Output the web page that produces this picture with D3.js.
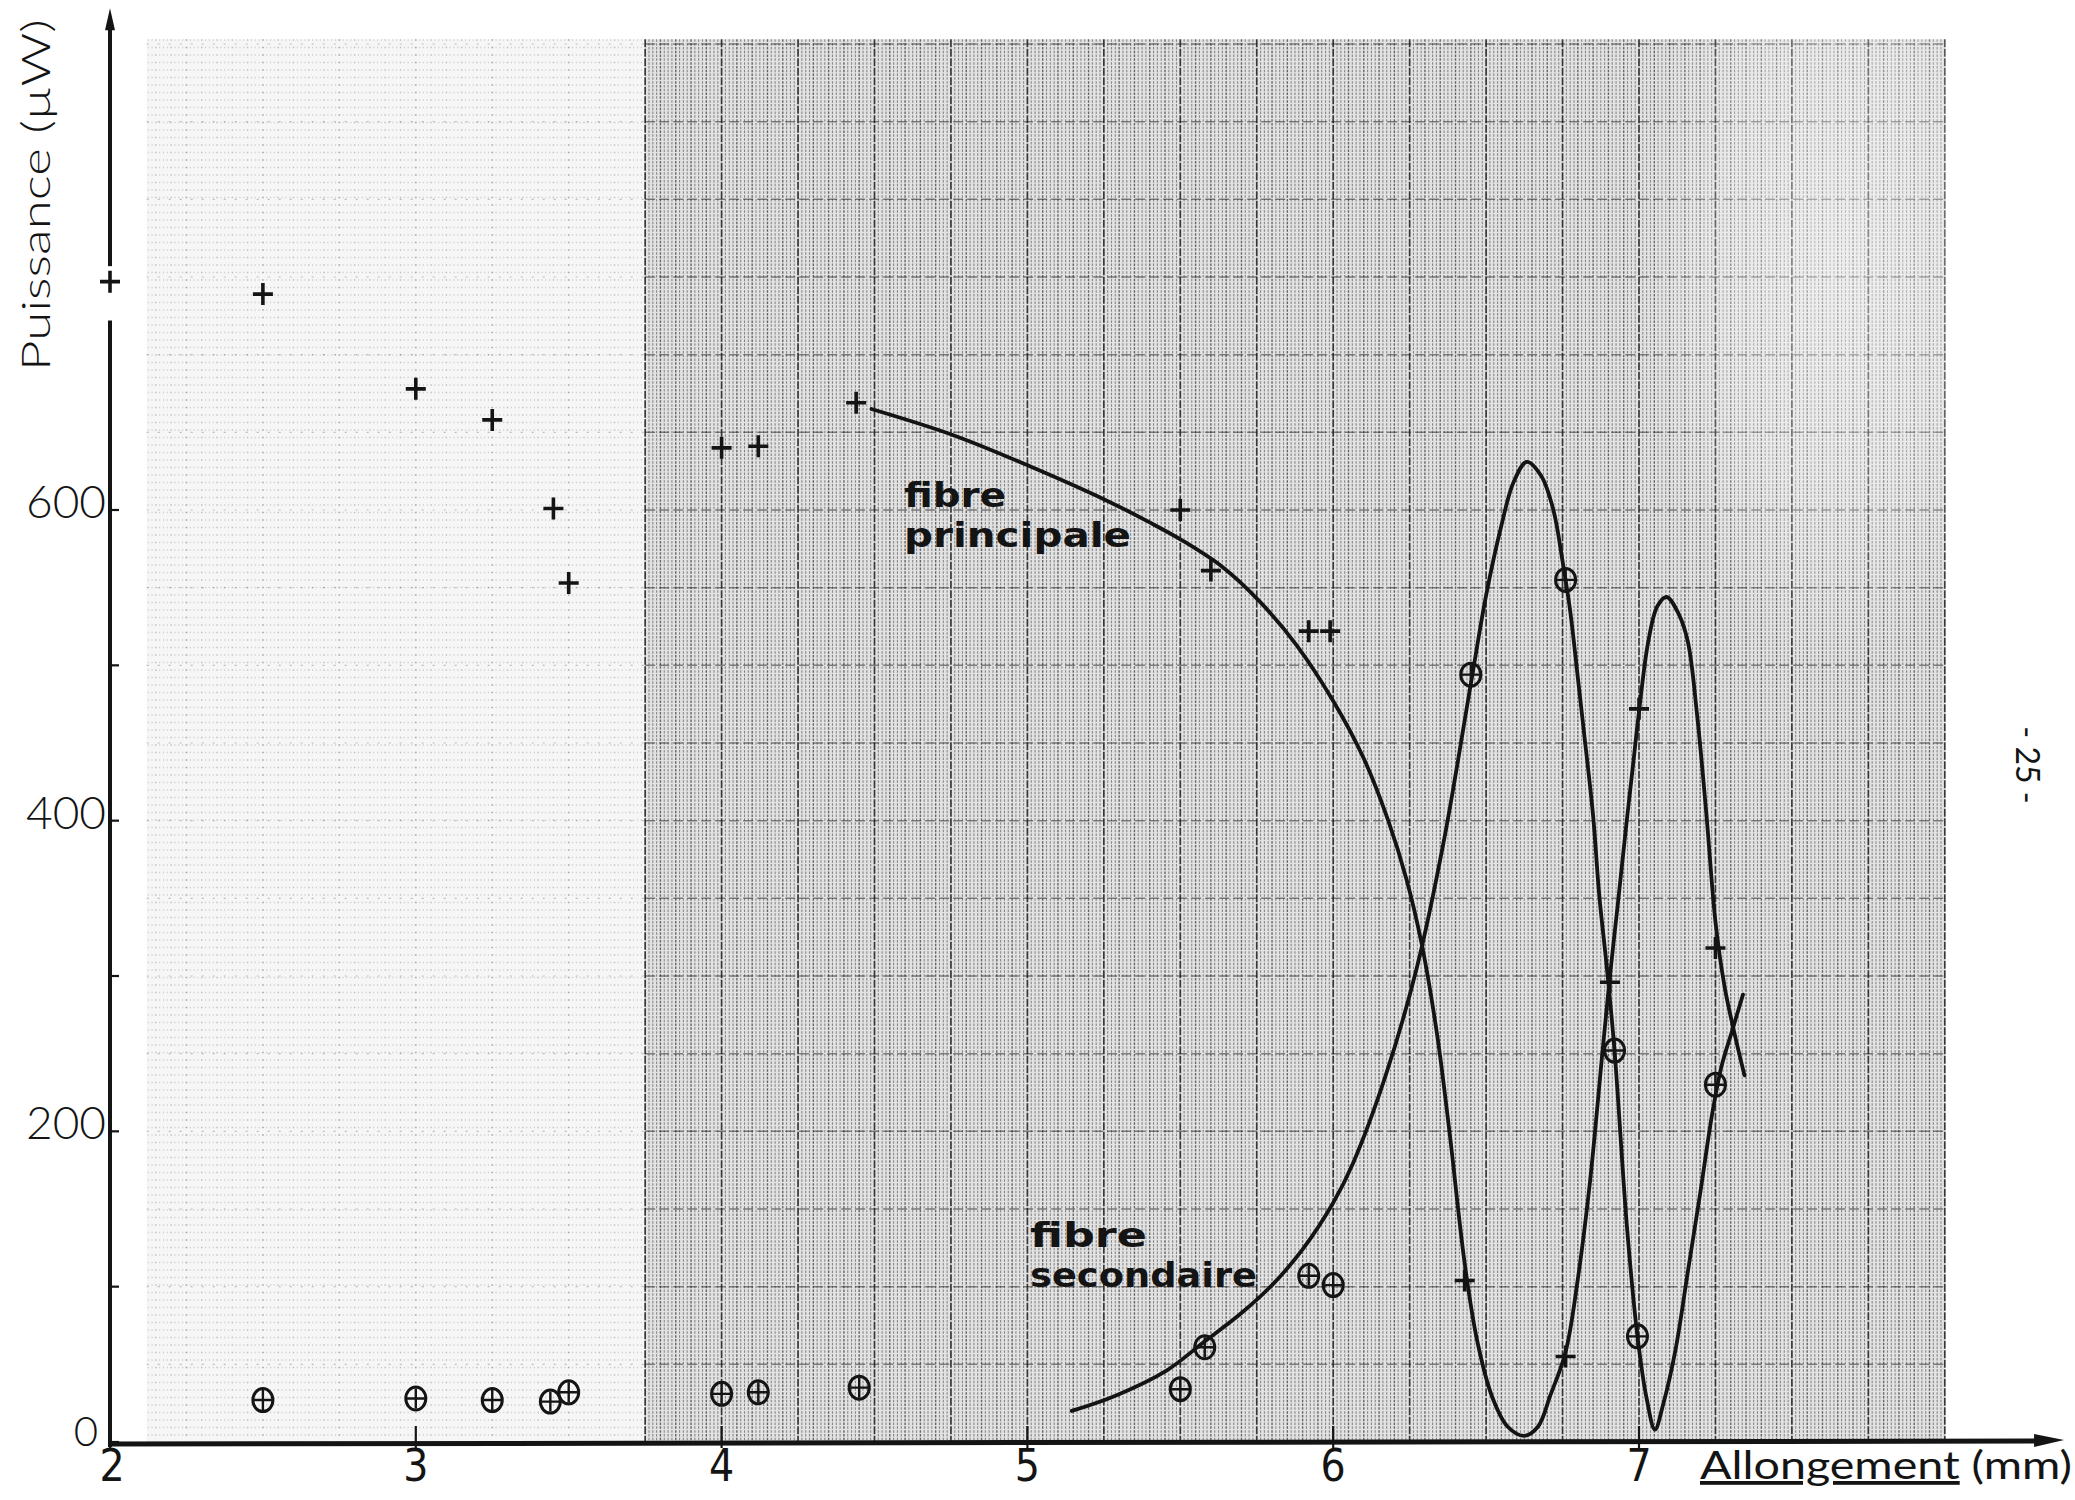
<!DOCTYPE html>
<html>
<head>
<meta charset="utf-8">
<script src="https://cdn.jsdelivr.net/npm/d3@7"></script>
<style>
  html, body { margin: 0; padding: 0; background: #fff; }
  svg { display: block; }
</style>
</head>
<body>
<svg id="chart" width="2075" height="1500"></svg>
<script>
// ---------------- data ----------------
const xTickValues = [2, 3, 4, 5, 6, 7];
const xTickLabels = ["2", "3", "4", "5", "6", "7"];
const yTickValues = [0, 200, 400, 600];
const yTickLabels = ["0", "200", "400", "600"];
const yMinorTickValues = [100, 300, 500];

// fibre principale : drawn curve
const principaleCurveX = [4.49, 4.76, 5.01, 5.26, 5.40, 5.51, 5.64, 5.76, 5.88, 6.00, 6.10, 6.18, 6.24, 6.29, 6.34, 6.38, 6.43, 6.47, 6.52, 6.57, 6.625, 6.67, 6.71, 6.76, 6.80, 6.84, 6.88, 6.905, 6.93, 6.96, 6.98, 7.00, 7.03, 7.06, 7.09, 7.13, 7.16, 7.19, 7.22, 7.25, 7.28, 7.31, 7.345];
const principaleCurveY = [665, 648, 628, 606, 592, 580, 563, 541, 513, 477, 440, 400, 362, 320, 262, 200, 115, 66, 29, 10, 4, 10, 30, 58, 105, 168, 250, 300, 345, 400, 435, 470, 515, 538, 544, 533, 515, 468, 405, 335, 293, 265, 236];

// fibre secondaire : drawn curve
const secondaireCurveX = [5.145, 5.29, 5.455, 5.575, 5.70, 5.80, 5.90, 6.00, 6.066, 6.17, 6.273, 6.36, 6.45, 6.50, 6.55, 6.59, 6.633, 6.68, 6.72, 6.75, 6.775, 6.80, 6.82, 6.85, 6.87, 6.895, 6.92, 6.96, 6.995, 7.025, 7.052, 7.08, 7.12, 7.16, 7.20, 7.24, 7.27, 7.305, 7.34];
const secondaireCurveY = [20, 30, 46, 64, 83, 101, 124, 154, 180, 235, 305, 385, 488, 545, 590, 618, 631, 622, 600, 567, 535, 492, 457, 403, 352, 305, 252, 140, 68, 28, 8, 25, 60, 110, 160, 212, 242, 265, 288];

// measured points, fibre principale (+)
const principalePointsX = [2.0, 2.5, 3.0, 3.25, 3.45, 3.50, 4.0, 4.12, 4.44, 5.50, 5.60, 5.92, 5.99, 6.43, 6.76, 6.905, 7.00, 7.25];
const principalePointsY = [747, 739, 678, 658, 601, 553, 640, 641, 669, 600, 561, 522, 522, 104, 55, 296, 472, 318];

// measured points, fibre secondaire (circled +)
const secondairePointsX = [2.5, 3.0, 3.25, 3.44, 3.50, 4.0, 4.12, 4.45, 5.50, 5.58, 5.92, 6.00, 6.45, 6.76, 6.92, 6.995, 7.25];
const secondairePointsY = [27, 28, 27, 26, 32, 31, 32, 35, 34, 61, 107, 101, 494, 555, 252, 68, 230];

// ---------------- layout ----------------
const svg = d3.select('#chart');
svg.append('rect').attr('width', 2075).attr('height', 1500).attr('fill', '#fff');

const x = d3.scaleLinear().domain([2, 7]).range([110, 1639]);
const y = d3.scaleLinear().domain([0, 600]).range([1442, 510]);

const paperLeft = 2.12, paperRight = 8.0, paperTop = 903, denseStart = 3.75;
const axisTop = 923, axisRight = 8.39;
const ink = '#141414';

// ---------------- graph paper ----------------
const defs = svg.append('defs');
const fade = defs.append('radialGradient').attr('id', 'fade')
  .attr('cx', 0.5).attr('cy', 0.5).attr('r', 0.5);
fade.append('stop').attr('offset', '0%').attr('stop-color', '#fff').attr('stop-opacity', 0.45);
fade.append('stop').attr('offset', '60%').attr('stop-color', '#fff').attr('stop-opacity', 0.25);
fade.append('stop').attr('offset', '100%').attr('stop-color', '#fff').attr('stop-opacity', 0);

const grid = svg.append('g');
grid.append('rect')
  .attr('x', x(denseStart)).attr('y', y(paperTop))
  .attr('width', x(paperRight) - x(denseStart)).attr('height', y(0) - y(paperTop))
  .attr('fill', '#e2e2e2');
grid.append('rect')
  .attr('x', x(paperLeft)).attr('y', y(paperTop))
  .attr('width', x(denseStart) - x(paperLeft)).attr('height', y(0) - y(paperTop))
  .attr('fill', '#f6f6f6');

const step = 0.0125;
const fine = d3.range(Math.round(paperLeft / step), Math.round(paperRight / step) + 1).map(i => ({ v: i * step, i }));
grid.selectAll('line.v').data(fine).join('line')
  .attr('class', 'v')
  .attr('x1', d => x(d.v)).attr('x2', d => x(d.v))
  .attr('y1', y(paperTop)).attr('y2', y(0))
  .attr('stroke', '#1a1a1a')
  .attr('stroke-width', d => d.i % 20 === 0 ? 1.7 : (d.i % 4 === 0 ? 1.4 : 1.1))
  .attr('stroke-dasharray', d => d.v < denseStart ? '1.5,6' : (d.i % 20 === 0 ? '8,1.5' : '2.5,1.3'))
  .attr('opacity', d => {
    let o = d.i % 20 === 0 ? 0.85 : (d.i % 4 === 0 ? 0.62 : 0.45);
    if (d.v < denseStart) o *= 0.4;
    return o;
  });

const hLines = d3.range(50, paperTop, 50);
grid.selectAll('line.h').data(hLines).join('line')
  .attr('class', 'h')
  .attr('x1', x(denseStart)).attr('x2', x(paperRight))
  .attr('y1', d => y(d)).attr('y2', d => y(d))
  .attr('stroke', '#1a1a1a').attr('stroke-width', 1.5)
  .attr('stroke-dasharray', '10,4').attr('opacity', 0.5);
grid.selectAll('line.hl').data(hLines).join('line')
  .attr('class', 'hl')
  .attr('x1', x(paperLeft)).attr('x2', x(denseStart))
  .attr('y1', d => y(d)).attr('y2', d => y(d))
  .attr('stroke', '#1a1a1a').attr('stroke-width', 1.2)
  .attr('stroke-dasharray', '2,9').attr('opacity', 0.25);

// softly faded patch of the scanned paper, upper right
grid.append('ellipse')
  .attr('cx', x(7.65)).attr('cy', y(760))
  .attr('rx', x(8.3) - x(7.65)).attr('ry', y(500) - y(760))
  .attr('fill', 'url(#fade)');

// ---------------- axes ----------------
const axes = svg.append('g').attr('stroke', ink).attr('fill', 'none');
const gapLow = 722, gapHigh = 757;
axes.append('line').attr('x1', x(2)).attr('x2', x(2)).attr('y1', y(0) + 5).attr('y2', y(gapLow)).attr('stroke-width', 4);
axes.append('line').attr('x1', x(2)).attr('x2', x(2)).attr('y1', y(gapHigh)).attr('y2', y(axisTop) + 12).attr('stroke-width', 4);
svg.append('path')
  .attr('d', `M${x(2)},${y(axisTop)} L${x(2) - 5},${y(axisTop) + 22} L${x(2) + 5},${y(axisTop) + 22} Z`)
  .attr('fill', ink);

axes.append('line').attr('x1', x(2) - 2).attr('x2', x(axisRight) - 18)
  .attr('y1', y(0) + 2).attr('y2', y(0) - 1).attr('stroke-width', 5);
svg.append('path')
  .attr('d', `M${x(axisRight)},${y(0) - 2} L${x(axisRight) - 30},${y(0) - 8} L${x(axisRight) - 30},${y(0) + 5} Z`)
  .attr('fill', ink);

// ticks
axes.selectAll('line.xt').data(xTickValues).join('line')
  .attr('x1', d => x(d)).attr('x2', d => x(d))
  .attr('y1', y(0) - 16).attr('y2', y(0) + 6).attr('stroke-width', 2.2);
axes.selectAll('line.yt').data(yTickValues.concat(yMinorTickValues)).join('line')
  .attr('x1', x(2)).attr('x2', x(2) + 9)
  .attr('y1', d => y(d)).attr('y2', d => y(d)).attr('stroke-width', 2.2);

// tick labels
svg.selectAll('text.xl').data(xTickValues).join('text')
  .attr('class', 'xl')
  .attr('x', d => x(d) + (d === 2 ? 2 : 0)).attr('y', y(0) + 39)
  .attr('text-anchor', 'middle')
  .attr('font-family', "'Liberation Sans Narrow', 'DejaVu Sans Condensed', sans-serif")
  .attr('font-size', 44).attr('fill', ink)
  .text((d, i) => xTickLabels[i]);

svg.selectAll('text.yl').data(yTickValues).join('text')
  .attr('class', 'yl')
  .attr('x', d => x(2) - (d === 0 ? 12 : 4)).attr('y', d => y(d) + (d === 0 ? 4 : 8))
  .attr('text-anchor', 'end')
  .attr('font-family', 'Lato, sans-serif').attr('font-weight', 300)
  .attr('font-size', d => d === 0 ? 42 : 46).attr('fill', ink)
  .text((d, i) => yTickLabels[i]);

// axis titles
const xTitle = svg.append('text')
  .attr('x', 1700).attr('y', 1479)
  .attr('font-family', 'Lato, sans-serif').attr('font-size', 38).attr('fill', ink)
  .attr('textLength', 372).attr('lengthAdjust', 'spacingAndGlyphs');
xTitle.append('tspan').attr('text-decoration', 'underline').text('Allongement');
xTitle.append('tspan').text(' (mm)');

svg.append('text')
  .attr('transform', 'translate(50,195) rotate(-90)')
  .attr('text-anchor', 'middle')
  .attr('font-family', 'Lato, sans-serif').attr('font-weight', 300)
  .attr('font-size', 40).attr('fill', ink)
  .attr('textLength', 352).attr('lengthAdjust', 'spacingAndGlyphs')
  .text('Puissance (µW)');

svg.append('text')
  .attr('transform', 'translate(2016,765) rotate(90)')
  .attr('text-anchor', 'middle')
  .attr('font-family', 'Lato, sans-serif').attr('font-size', 32).attr('fill', ink)
  .text('- 25 -');

// ---------------- curves ----------------
const line = d3.line().x(d => x(d[0])).y(d => y(d[1])).curve(d3.curveCatmullRom.alpha(0.5));
const principaleCurve = principaleCurveX.map((v, i) => [v, principaleCurveY[i]]);
const secondaireCurve = secondaireCurveX.map((v, i) => [v, secondaireCurveY[i]]);
svg.append('path').datum(principaleCurve).attr('d', line)
  .attr('fill', 'none').attr('stroke', ink).attr('stroke-width', 3.8).attr('stroke-linecap', 'round');
svg.append('path').datum(secondaireCurve).attr('d', line)
  .attr('fill', 'none').attr('stroke', ink).attr('stroke-width', 3.8).attr('stroke-linecap', 'round');

// ---------------- points ----------------
const plusPts = principalePointsX.map((v, i) => [v, principalePointsY[i]]);
svg.selectAll('path.plus').data(plusPts).join('path')
  .attr('class', 'plus')
  .attr('transform', d => `translate(${x(d[0])},${y(d[1])})`)
  .attr('d', 'M-10,0H10M0,-11V11')
  .attr('stroke', ink).attr('stroke-width', 3.6).attr('fill', 'none');

const circPts = secondairePointsX.map((v, i) => [v, secondairePointsY[i]]);
const circ = svg.selectAll('g.circ').data(circPts).join('g')
  .attr('class', 'circ')
  .attr('transform', d => `translate(${x(d[0])},${y(d[1])})`);
circ.append('ellipse').attr('rx', 10).attr('ry', 11.5)
  .attr('fill', 'none').attr('stroke', ink).attr('stroke-width', 3);
circ.append('path').attr('d', 'M-9,0H9M0,-10V10')
  .attr('stroke', ink).attr('stroke-width', 2.4);

// ---------------- curve labels ----------------
const labelFont = "'DejaVu Sans', sans-serif";
const curveLabels = [
  { lines: ['fibre', 'principale'], x: 904, y: 507, lens: [102, 227] },
  { lines: ['fibre', 'secondaire'], x: 1030, y: 1247, lens: [117, 227] }
];
curveLabels.forEach(lab => {
  lab.lines.forEach((s, i) => {
    svg.append('text')
      .attr('x', lab.x).attr('y', lab.y + i * 40)
      .attr('font-family', labelFont).attr('font-weight', 'bold')
      .attr('font-size', 34).attr('fill', ink)
      .attr('textLength', lab.lens[i]).attr('lengthAdjust', 'spacingAndGlyphs')
      .text(s);
  });
});
</script>
</body>
</html>
